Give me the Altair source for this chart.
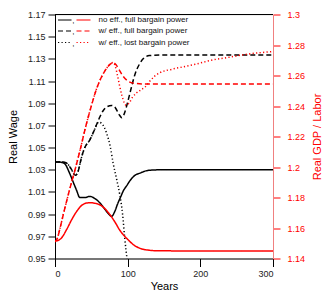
import altair as alt
import pandas as pd

# ---- data ----
# no efficiency, full bargaining power
yr_wage_noeff = [0, 5, 10, 14, 20, 25, 30, 34, 41, 48, 55, 62, 68, 74, 78, 82, 86, 90, 94, 99, 103, 110, 117, 125, 135, 150, 200, 250, 300]
wage_noeff = [1.037, 1.037, 1.0365, 1.035, 1.027, 1.019, 1.011, 1.005, 1.005, 1.006, 1.004, 1.0, 0.995, 0.990, 0.988, 0.992, 0.999, 1.005, 1.011, 1.016, 1.020, 1.025, 1.027, 1.029, 1.0298, 1.030, 1.030, 1.030, 1.030]

yr_gdp_noeff = [0, 4, 9, 16, 23, 30, 36, 42, 48, 55, 62, 69, 76, 83, 89, 95, 101, 108, 117, 128, 140, 160, 200, 250, 300]
gdp_noeff = [1.1515, 1.1518, 1.1535, 1.159, 1.1655, 1.171, 1.1745, 1.1762, 1.1766, 1.1762, 1.1751, 1.1725, 1.1685, 1.1635, 1.1587, 1.155, 1.1521, 1.149, 1.1467, 1.1455, 1.1451, 1.145, 1.145, 1.145, 1.145]

# with efficiency, full bargaining power
yr_wage_efffull = [0, 10, 16, 22, 28, 32, 36, 41, 48, 53, 58, 62, 66, 72, 78, 83, 88, 92, 95, 100, 105, 110, 116, 122, 130, 150, 200, 250, 300]
wage_efffull = [1.037, 1.037, 1.036, 1.031, 1.025, 1.029, 1.040, 1.050, 1.057, 1.064, 1.072, 1.078, 1.083, 1.087, 1.088, 1.086, 1.080, 1.077, 1.080, 1.091, 1.104, 1.116, 1.125, 1.1305, 1.133, 1.1335, 1.1335, 1.1335, 1.1335]

yr_gdp_efffull = [0, 3, 7, 12, 20, 28, 35, 42, 50, 57, 64, 70, 76, 80, 84, 88, 93, 100, 108, 120, 150, 200, 250, 300]
gdp_efffull = [1.151, 1.153, 1.160, 1.170, 1.185, 1.199, 1.212, 1.226, 1.240, 1.251, 1.259, 1.264, 1.2675, 1.2685, 1.267, 1.264, 1.260, 1.2565, 1.255, 1.2545, 1.2545, 1.2545, 1.2545, 1.2545]

# with efficiency, lost bargaining power
yr_wage_efflost = [0, 10, 16, 22, 28, 32, 36, 41, 48, 53, 57, 60, 64, 68, 71, 76, 80, 85, 89, 93, 96, 99, 102]
wage_efflost = [1.037, 1.037, 1.036, 1.031, 1.025, 1.029, 1.040, 1.050, 1.057, 1.064, 1.070, 1.073, 1.072, 1.068, 1.063, 1.051, 1.036, 1.021, 1.008, 0.990, 0.968, 0.950, 0.930]

yr_gdp_efflost = [0, 3, 7, 12, 20, 28, 35, 42, 50, 57, 64, 70, 76, 80, 83, 86, 89, 92, 95, 98, 102, 107, 112, 118, 124, 130, 137, 145, 160, 190, 215, 240, 265, 300]
gdp_efflost = [1.151, 1.153, 1.160, 1.170, 1.185, 1.199, 1.212, 1.226, 1.240, 1.251, 1.259, 1.264, 1.2675, 1.2685, 1.266, 1.260, 1.253, 1.247, 1.2425, 1.2405, 1.242, 1.246, 1.2485, 1.2505, 1.2525, 1.256, 1.2595, 1.262, 1.264, 1.267, 1.270, 1.272, 1.274, 1.2757]

legend_labels = ["no eff., full bargain power", "w/ eff., full bargain power", "w/ eff., lost bargain power"]

wage_ticks = [0.95, 0.97, 0.99, 1.01, 1.03, 1.05, 1.07, 1.09, 1.11, 1.13, 1.15, 1.17]
gdp_ticks = [1.14, 1.16, 1.18, 1.2, 1.22, 1.24, 1.26, 1.28, 1.3]
year_ticks = [0, 100, 200, 300]

FONT = "Liberation Sans"
RED = "#ff0000"
W, H = 218, 244

dashes = [[1, 0], [5, 3], [1.2, 2.3]]

x_enc = alt.X("year:Q", scale=alt.Scale(domain=[0, 300], nice=False, zero=False),
              axis=alt.Axis(values=year_ticks, title="Years", grid=False, tickSize=8,
                            labelFontSize=9, titleFontSize=11, titleFontWeight="normal",
                            labelPadding=3, titlePadding=2, domainColor="black", tickColor="black",
                            labelColor="#222", titleColor="black", labelFont=FONT, titleFont=FONT))


def line_layer(years, vals, dash, color, scale, axis):
    df = pd.DataFrame({"year": years, "v": vals})
    return alt.Chart(df).mark_line(color=color, strokeDash=dash, strokeWidth=1.5,
                                   interpolate="monotone", clip=True).encode(
        x=x_enc, y=alt.Y("v:Q", scale=scale, axis=axis))


wage_scale = alt.Scale(domain=[0.95, 1.17], nice=False, zero=False)
gdp_scale = alt.Scale(domain=[1.14, 1.3], nice=False, zero=False)

wage_axis = alt.Axis(values=wage_ticks, format=".2f", title="Real Wage", orient="left", grid=False,
                     tickSize=7, labelFontSize=9, titleFontSize=11, titleFontWeight="normal",
                     labelPadding=3, titlePadding=9, domainColor="black", tickColor="black",
                     labelColor="#222", titleColor="black", labelFont=FONT, titleFont=FONT)
gdp_axis = alt.Axis(values=gdp_ticks, format="~g", title="Real GDP / Labor", orient="right", grid=False,
                    tickSize=7, labelFontSize=9, titleFontSize=11, titleFontWeight="normal",
                    labelPadding=7, titlePadding=18, titleAngle=270, domainColor="#f08080", tickColor=RED,
                    labelColor=RED, titleColor=RED, labelFont=FONT, titleFont=FONT)

left = alt.layer(
    line_layer(yr_wage_noeff, wage_noeff, dashes[0], "black", wage_scale, wage_axis),
    line_layer(yr_wage_efffull, wage_efffull, dashes[1], "black", wage_scale, wage_axis),
    line_layer(yr_wage_efflost, wage_efflost, dashes[2], "black", wage_scale, wage_axis),
)
right = alt.layer(
    line_layer(yr_gdp_noeff, gdp_noeff, dashes[0], RED, gdp_scale, gdp_axis),
    line_layer(yr_gdp_efffull, gdp_efffull, dashes[1], RED, gdp_scale, gdp_axis),
    line_layer(yr_gdp_efflost, gdp_efflost, dashes[2], RED, gdp_scale, gdp_axis),
)

one = alt.Data(values=[{}])
extras = [alt.Chart(one).mark_rule(color="black", strokeWidth=1).encode(
    x=alt.value(0), x2=alt.value(W), y=alt.value(0))]
row_y = [5.5, 16.5, 28]
for i, lab in enumerate(legend_labels):
    yy = row_y[i]
    extras.append(alt.Chart(one).mark_rule(color="black", strokeWidth=1.2, strokeDash=dashes[i]).encode(
        x=alt.value(3), x2=alt.value(16.5), y=alt.value(yy)))
    extras.append(alt.Chart(one).mark_text(text=",", font=FONT, fontSize=8, align="left",
                                           baseline="middle", color="black").encode(
        x=alt.value(17.3), y=alt.value(yy + 1)))
    extras.append(alt.Chart(one).mark_rule(color=RED, strokeWidth=1.2, strokeDash=dashes[i]).encode(
        x=alt.value(21.5), x2=alt.value(35.5), y=alt.value(yy)))
    extras.append(alt.Chart(one).mark_text(text=lab, font=FONT, fontSize=8, align="left",
                                           baseline="middle", color="#111").encode(
        x=alt.value(43.5), y=alt.value(yy)))

chart = alt.layer(left, right, *extras).resolve_scale(y="independent").properties(
    width=W, height=H,
    autosize=alt.AutoSizeParams(type="none"),
    padding={"left": 47, "top": 6.5, "right": 51, "bottom": 35},
).configure_view(stroke=None).configure(background="white")

chart.save("out.html", embed_options={"renderer": "svg", "actions": False})
